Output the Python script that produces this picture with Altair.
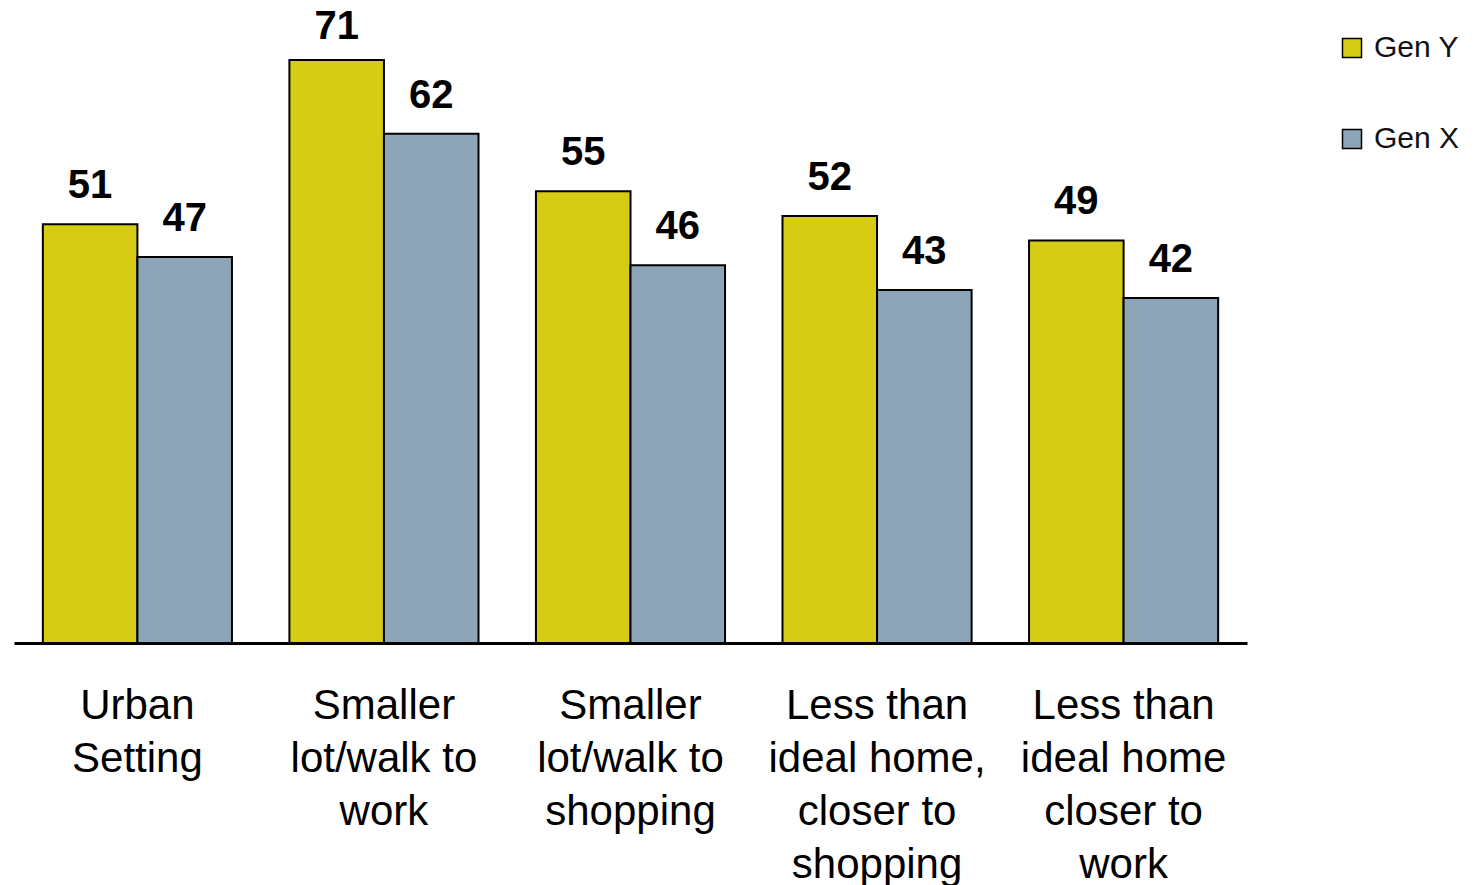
import altair as alt
import pandas as pd

categories = [
    "Urban\nSetting",
    "Smaller\nlot/walk to\nwork",
    "Smaller\nlot/walk to\nshopping",
    "Less than\nideal home,\ncloser to\nshopping",
    "Less than\nideal home\ncloser to\nwork",
]
series = ["Gen Y", "Gen X"]
gen_y = [51, 71, 55, 52, 49]
gen_x = [47, 62, 46, 43, 42]
colors = ["#D7CC14", "#8EA5B8"]

rows = []
for c, a, b in zip(categories, gen_y, gen_x):
    rows.append({"cat": c, "series": "Gen Y", "value": a})
    rows.append({"cat": c, "series": "Gen X", "value": b})
df = pd.DataFrame(rows)

x = alt.X("cat:N", sort=categories, title=None,
          scale=alt.Scale(paddingInner=0.233, paddingOuter=0.117),
          axis=alt.Axis(labelExpr="split(datum.label, '\\n')", labelAngle=0,
                        labelFontSize=42, labelFont="Liberation Sans",
                        labelColor="#000000", labelLineHeight=53,
                        labelPadding=42, labelLimit=0, ticks=False,
                        domainColor="#000000", domainWidth=3, grid=False,
                        labelBaseline="top"))
xo = alt.XOffset("series:N", sort=series, scale=alt.Scale(domain=series, paddingInner=0, paddingOuter=0))
yscale = alt.Scale(domain=[0, 78.3], nice=False, zero=True)
y = alt.Y("value:Q", scale=yscale, axis=None)

bars = alt.Chart(df).mark_bar(stroke="#000000", strokeWidth=2).encode(
    x=x, xOffset=xo, y=y,
    color=alt.Color("series:N", sort=series,
                    scale=alt.Scale(domain=series, range=colors),
                    legend=alt.Legend(title=None, orient="none", legendX=1323, legendY=33,
                                      symbolType="square", symbolSize=361,
                                      symbolStrokeColor="#000000", symbolStrokeWidth=1.5,
                                      labelFontSize=30, labelFont="Liberation Sans",
                                      labelColor="#111111", rowPadding=61, labelOffset=7)),
)

labels = alt.Chart(df).transform_calculate(
    lab="min(datum.value + 3.2, 73.6)"
).mark_text(baseline="alphabetic", fontSize=40,
            fontWeight="bold", font="Liberation Sans", color="#000000").encode(
    x=x, xOffset=xo, y=alt.Y("lab:Q", scale=yscale, axis=None), text="value:Q")

chart = (bars + labels).properties(
    width=1233, height=643,
    padding={"left": 14, "top": 0, "right": 230, "bottom": 242},
    autosize=alt.AutoSizeParams(type="none"),
    background="#ffffff",
).configure_view(stroke="transparent", strokeWidth=0)

chart.save("out.html", embed_options={"renderer": "svg", "actions": False})
